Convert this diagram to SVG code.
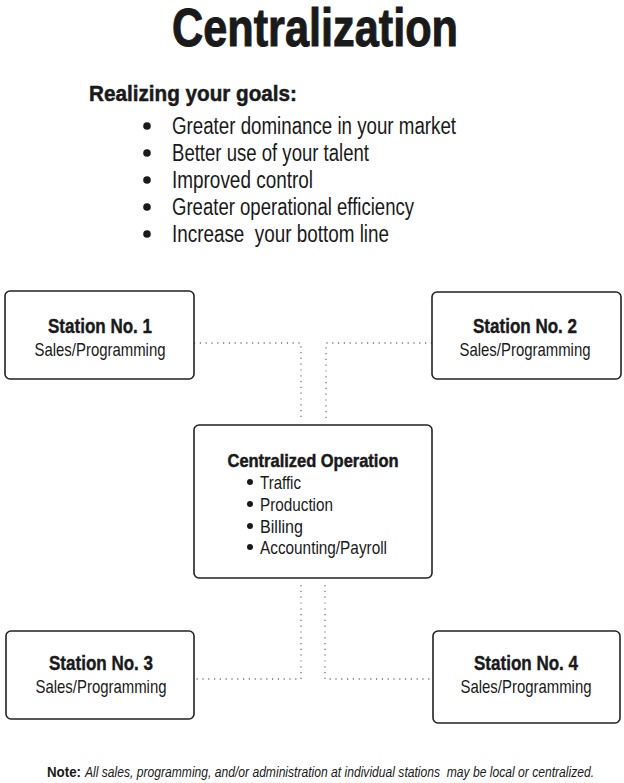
<svg xmlns="http://www.w3.org/2000/svg" width="624" height="783" viewBox="0 0 624 783">
<style>
text{font-family:"Liberation Sans",Arial,sans-serif;fill:#1a1a1a}
.b{font-weight:bold}
.hv{stroke:#1a1a1a;stroke-width:0.5}
.box{fill:#fff;stroke:#222;stroke-width:1.6}
.dot{fill:none;stroke:#777;stroke-width:1.3;stroke-dasharray:1.2 4.6}
.st{font-size:19.5px;font-weight:bold;text-anchor:middle;stroke:#1a1a1a;stroke-width:0.4}
.sub{font-size:19px;text-anchor:middle}
</style>
<rect width="624" height="783" fill="#fff"/>
<g id="title">
<text x="315" y="46" class="b" font-size="53" text-anchor="middle" textLength="286" lengthAdjust="spacingAndGlyphs" stroke="#1a1a1a" stroke-width="1">Centralization</text>
</g>
<g id="goals">
<text x="89" y="101" class="b hv" font-size="22" textLength="208" lengthAdjust="spacingAndGlyphs">Realizing your goals:</text>
<g fill="#1a1a1a">
<circle cx="147" cy="126" r="3.8"/>
<circle cx="147" cy="153" r="3.8"/>
<circle cx="147" cy="180" r="3.8"/>
<circle cx="147" cy="207" r="3.8"/>
<circle cx="147" cy="234" r="3.8"/>
</g>
<g font-size="23.5">
<text x="172" y="134" textLength="284" lengthAdjust="spacingAndGlyphs">Greater dominance in your market</text>
<text x="172" y="161" textLength="197" lengthAdjust="spacingAndGlyphs">Better use of your talent</text>
<text x="172" y="188" textLength="141" lengthAdjust="spacingAndGlyphs">Improved control</text>
<text x="172" y="215" textLength="242" lengthAdjust="spacingAndGlyphs">Greater operational efficiency</text>
<text x="172" y="242" textLength="217" lengthAdjust="spacingAndGlyphs" xml:space="preserve">Increase  your bottom line</text>
</g>
</g>
<g id="connectors">
<path class="dot" d="M194 343 H301 V418"/>
<path class="dot" d="M432 343 H326 V418"/>
<path class="dot" d="M301 585 V679 H194"/>
<path class="dot" d="M325 585 V679 H432"/>
</g>
<g id="station1">
<rect class="box" x="5" y="291" width="189" height="88" rx="5"/>
<text class="st" x="100" y="333" textLength="104" lengthAdjust="spacingAndGlyphs">Station No. 1</text>
<text class="sub" x="100" y="356" textLength="131" lengthAdjust="spacingAndGlyphs">Sales/Programming</text>
</g>
<g id="station2">
<rect class="box" x="432" y="292" width="189" height="87" rx="5"/>
<text class="st" x="525" y="333" textLength="104" lengthAdjust="spacingAndGlyphs">Station No. 2</text>
<text class="sub" x="525" y="356" textLength="131" lengthAdjust="spacingAndGlyphs">Sales/Programming</text>
</g>
<g id="central">
<rect class="box" x="194" y="425" width="238" height="153" rx="5"/>
<text x="313" y="467" class="b hv" font-size="19" text-anchor="middle" textLength="171" lengthAdjust="spacingAndGlyphs">Centralized Operation</text>
<g fill="#1a1a1a">
<circle cx="250" cy="482" r="3"/>
<circle cx="250" cy="504" r="3"/>
<circle cx="250" cy="526" r="3"/>
<circle cx="250" cy="547" r="3"/>
</g>
<g font-size="19">
<text x="260" y="489" textLength="41" lengthAdjust="spacingAndGlyphs">Traffic</text>
<text x="260" y="511" textLength="73" lengthAdjust="spacingAndGlyphs">Production</text>
<text x="260" y="533" textLength="43" lengthAdjust="spacingAndGlyphs">Billing</text>
<text x="260" y="554" textLength="127" lengthAdjust="spacingAndGlyphs">Accounting/Payroll</text>
</g>
</g>
<g id="station3">
<rect class="box" x="6" y="631" width="188" height="88" rx="5"/>
<text class="st" x="101" y="670" textLength="104" lengthAdjust="spacingAndGlyphs">Station No. 3</text>
<text class="sub" x="101" y="693" textLength="131" lengthAdjust="spacingAndGlyphs">Sales/Programming</text>
</g>
<g id="station4">
<rect class="box" x="433" y="631" width="187" height="92" rx="5"/>
<text class="st" x="526" y="670" textLength="104" lengthAdjust="spacingAndGlyphs">Station No. 4</text>
<text class="sub" x="526" y="693" textLength="131" lengthAdjust="spacingAndGlyphs">Sales/Programming</text>
</g>
<g id="note" font-size="14">
<text x="47" y="777" class="b" textLength="34" lengthAdjust="spacingAndGlyphs">Note:</text>
<text x="85" y="777" font-style="italic" textLength="509" lengthAdjust="spacingAndGlyphs" xml:space="preserve">All sales, programming, and/or administration at individual stations  may be local or centralized.</text>
</g>
</svg>
